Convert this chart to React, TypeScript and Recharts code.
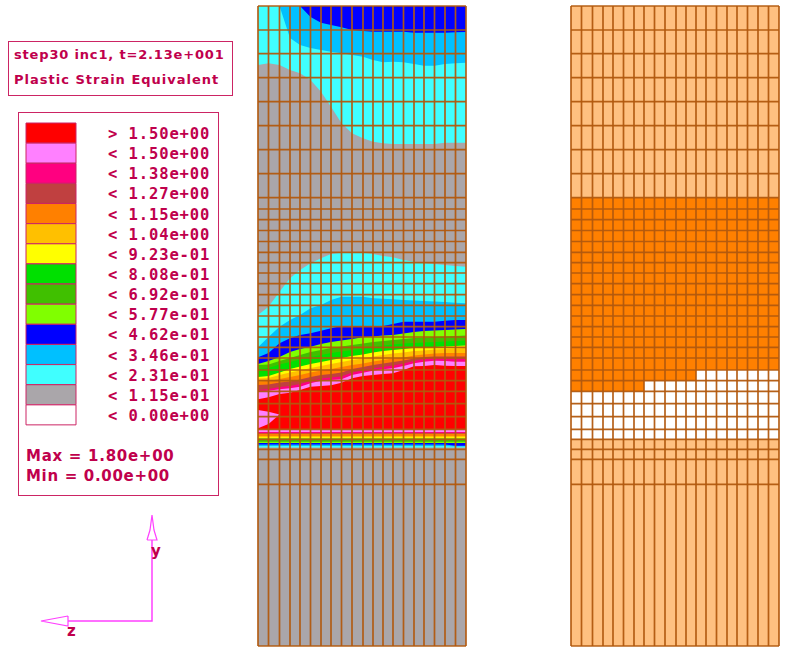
import { Area, Bar, BarChart, Cell, ComposedChart, ReferenceLine, Scatter, ScatterChart, XAxis, YAxis } from "recharts";

const INK = "#c0004c";
const FRAME = "#cc2464";
const MESH = "#b2590e";
const AXIS = "#ff40ff";

const captionLines = ["step30 inc1, t=2.13e+001", "Plastic Strain Equivalent"];
const legendLabels = ["> 1.50e+00", "< 1.50e+00", "< 1.38e+00", "< 1.27e+00", "< 1.15e+00", "< 1.04e+00", "< 9.23e-01", "< 8.08e-01", "< 6.92e-01", "< 5.77e-01", "< 4.62e-01", "< 3.46e-01", "< 2.31e-01", "< 1.15e-01", "< 0.00e+00"];
const legendColors = ["#ff0000", "#ff80ff", "#ff0080", "#c04040", "#ff8000", "#ffc000", "#ffff00", "#00e000", "#40c000", "#80ff00", "#0000ff", "#00c0ff", "#40ffff", "#aaa6aa", "#ffffff"];

// mesh lines
const meshColumns = [0, 10.5, 21.5, 32, 42, 52.5, 63, 73, 83.5, 94, 105, 115, 125, 135, 145.5, 156, 166, 176.5, 187, 197.5, 208];
const meshRows = [6, 30, 53.7, 77.7, 101.7, 125.7, 149.7, 173.7, 197.7, 209, 219.7, 230.5, 241.5, 252.3, 262.7, 273, 283.7, 294.7, 305.3, 316, 326.7, 337, 347.3, 358, 370, 380.7, 391.3, 403.7, 416.7, 429.3, 439.3, 449.3, 459.3, 484.3, 646];

// contours near the top edge: each one runs from the edge down to these rows
const topCyanBottom = [65, 63.3, 65, 70, 73.3, 80, 91.7, 106.7, 123.3, 133.3, 138.3, 141.7, 143.3, 144, 144, 144, 144, 144, 142.7, 142.7, 142.7];
const topSkyBottom = [6, 6, 6, 38, 45, 48, 50, 51.7, 53.3, 55, 56.7, 60, 62.3, 61.7, 62.3, 64, 65.7, 65.7, 64, 63.3, 62.7];
const topBlueBottom = [6, 6, 6, 6, 6, 17, 22.7, 25, 27.3, 30, 31, 31.7, 31.7, 31.7, 31.7, 32.7, 32.7, 32.7, 32.7, 32.3, 32];

// nested contours of the shear band, upper edges
const cyanTop = [315, 306.7, 291.7, 278.3, 270, 263.3, 258.3, 254, 252.7, 252.7, 252.7, 254, 256, 257.3, 260, 261.7, 263.3, 264, 265, 266, 266.7];
const skyTop = [347.3, 337, 326.7, 320, 315, 308.3, 305, 300, 296.7, 296.7, 296.7, 298.3, 298.7, 299.3, 300, 300.5, 301, 301.5, 302, 302.7, 303.3];
const blueTop = [357.3, 353, 343.3, 338.3, 335, 333.3, 330.7, 328.3, 326, 326, 326, 326, 326, 324, 321.7, 321.7, 321.7, 321.7, 320.7, 320, 320];
const limeTop = [364, 361, 357, 352, 349, 346.7, 344, 342, 340.5, 339, 337.3, 336.5, 335.5, 335, 333.5, 332, 331, 330.5, 330, 329.5, 329];
const oliveTop = [365, 364.5, 361, 358, 355, 352, 350, 348, 346.5, 345, 343.5, 342, 341, 340, 339, 338, 337.5, 337, 336.5, 336, 335.5];
const greenTop = [369, 368, 364.5, 362, 359.5, 357, 355, 353, 351.5, 350, 348.5, 347, 345.5, 344.5, 343.5, 343, 342.5, 342, 341.5, 341, 340.5];
const yellowTop = [377, 376, 372.5, 369, 366.5, 364, 362, 360, 358, 356, 354.5, 352.5, 351, 350, 349, 348, 347.5, 347, 346.5, 346, 345.5];
const amberTop = [378.5, 378, 375, 372.5, 370.5, 368, 366, 364, 362, 360, 358.5, 356.5, 355, 353.5, 352.5, 351, 350.5, 349.5, 349, 348.5, 348];
const orangeTop = [381.5, 381, 379, 377, 375, 372.5, 370.5, 369, 367, 365, 363.5, 361.5, 360, 358.5, 357.5, 355.5, 354.5, 353.5, 353, 353, 353];
const brownTop = [385, 384.5, 382.5, 381.5, 379.5, 377, 375, 374, 372.5, 369, 367, 365, 363.5, 362, 360.5, 358.5, 357, 356.5, 356.5, 356.5, 356.5];
const magentaTop = [390, 389, 387, 386, 384, 381, 378.5, 377.5, 376.5, 372.5, 370.5, 368.5, 367, 365.5, 363.5, 361, 359, 358, 358.5, 358.5, 358.5];
const pinkTop = [391.7, 390.7, 389.3, 388.3, 386.7, 383.3, 380.7, 380, 379.3, 375, 372.7, 370.7, 369.3, 368.3, 366, 363.3, 361.7, 360.7, 361, 361.7, 361.7];
const redTop = [399.3, 397.3, 394, 392.7, 390, 386.7, 386, 385.3, 382.7, 378.3, 376, 375, 374, 373.3, 370, 366.3, 366, 365, 365.7, 366, 366];

// lower edges of the same contours
const cyanBottom = [447.5, 447.5, 447.5, 447.5, 447.5, 447.5, 447.5, 447.5, 447.5, 447.5, 447.5, 447.5, 447.5, 447.5, 447.5, 447.5, 447.5, 447.5, 447.5, 447.5, 447.5];
const skyBottom = [446, 446, 446, 446, 446, 446, 446, 446, 446, 446, 446, 446, 446, 446, 446, 446, 446, 446, 446, 446.5, 446.5];
const blueBottom = [444.5, 444.5, 444.5, 444.5, 444.5, 444.5, 444.5, 444.5, 444.5, 444.5, 444.5, 444.5, 444.5, 444.5, 444.5, 444.5, 444.5, 444.5, 444.5, 445.8, 445.8];
const limeBottom = [443, 443, 443, 443, 443, 443, 443, 443, 443, 443, 443, 443, 443, 443, 443, 443, 443, 443, 443, 443, 443];
const oliveBottom = [441.7, 441.7, 441.7, 441.7, 441.7, 441.7, 441.7, 441.7, 441.7, 441.7, 441.7, 441.7, 441.7, 441.7, 441.7, 441.7, 441.7, 441.7, 441.7, 441.7, 441.7];
const greenBottom = [440, 440, 440, 440, 440, 440, 440, 440, 440, 440, 440, 440, 440, 440, 440, 440, 440, 440, 440, 440, 440];
const yellowBottom = [438.5, 438.5, 438.5, 438.5, 438.5, 438.5, 438.5, 438.5, 438.5, 438.5, 438.5, 438.5, 438.5, 438.5, 438.5, 438.5, 438.5, 438.5, 438.5, 438.5, 438.5];
const amberBottom = [437.3, 437.3, 437.3, 437.3, 437.3, 437.3, 437.3, 437.3, 437.3, 437.3, 437.3, 437.3, 437.3, 437.3, 437.3, 437.3, 437.3, 437.3, 437.3, 437.3, 437.3];
const orangeBottom = [436, 436, 436, 436, 436, 436, 436, 436, 436, 436, 436, 436, 436, 436, 436, 436, 436, 436, 436, 436, 436];
const brownBottom = [433.7, 433.7, 433.7, 433.7, 433.7, 433.7, 433.7, 433.7, 433.7, 433.7, 433.7, 433.7, 433.7, 433.7, 433.7, 433.7, 433.7, 433.7, 433.7, 433.7, 433.7];
const magentaBottom = [433, 433, 433, 433, 433, 433, 433, 433, 433, 433, 433, 433, 433, 433, 433, 433, 433, 433, 433, 433, 433];
const pinkBottom = [432, 432, 432, 432, 432, 432, 432, 432, 432, 432, 432, 432, 432, 432, 432, 432, 432, 432, 432, 432, 432];
const redBottom = [429.5, 429.5, 429.5, 429.5, 429.5, 429.5, 429.5, 429.5, 429.5, 429.5, 429.5, 429.5, 429.5, 429.5, 429.5, 429.5, 429.5, 429.5, 429.5, 429.5, 429.5];

// pink wedge inside the red zone, left edge
const lobeTop = [410, 411.7, 414.5];
const lobeBottom = [428.3, 424, 414.5];

// right mesh: yielded zone
const yieldTop = [197.7, 197.7, 197.7, 197.7, 197.7, 197.7, 197.7, 197.7, 197.7, 197.7, 197.7, 197.7, 197.7, 197.7, 197.7, 197.7, 197.7, 197.7, 197.7, 197.7, 197.7];
const yieldBottom = [391.3, 391.3, 391.3, 391.3, 391.3, 391.3, 391.3, 380.7, 380.7, 380.7, 380.7, 380.7, 370, 370, 370, 370, 370, 370, 370, 370, 370];
const elasticBottom = [439.3, 439.3, 439.3, 439.3, 439.3, 439.3, 439.3, 439.3, 439.3, 439.3, 439.3, 439.3, 439.3, 439.3, 439.3, 439.3, 439.3, 439.3, 439.3, 439.3, 439.3];

// triad
const triadShafts = [{ x: 68, y: 621 }, { x: 152, y: 621 }, { x: 152, y: 540 }];
const triadYHead = [{ x: 147, y: 540 }, { x: 150, y: 530 }, { x: 152, y: 515 }, { x: 154, y: 530 }, { x: 157, y: 540 }, { x: 147, y: 540 }];
const triadZHead = [{ x: 68, y: 616 }, { x: 41, y: 621 }, { x: 68, y: 626 }, { x: 68, y: 616 }];

const contours: [string, string, number[], number[]][] = [
  ["topCyan", "#40ffff", topCyanBottom.map(() => 6), topCyanBottom],
  ["topSky", "#00c0ff", topSkyBottom.map(() => 6), topSkyBottom],
  ["topBlue", "#0000ff", topBlueBottom.map(() => 6), topBlueBottom],
  ["cyan", "#40ffff", cyanTop, cyanBottom],
  ["sky", "#00c0ff", skyTop, skyBottom],
  ["blue", "#0000ff", blueTop, blueBottom],
  ["lime", "#80ff00", limeTop, limeBottom],
  ["olive", "#40c000", oliveTop, oliveBottom],
  ["green", "#00e000", greenTop, greenBottom],
  ["yellow", "#ffff00", yellowTop, yellowBottom],
  ["amber", "#ffc000", amberTop, amberBottom],
  ["orange", "#ff8000", orangeTop, orangeBottom],
  ["brown", "#c04040", brownTop, brownBottom],
  ["magenta", "#ff0080", magentaTop, magentaBottom],
  ["pink", "#ff80ff", pinkTop, pinkBottom],
  ["red", "#ff0000", redTop, redBottom],
];

const contourRows = meshColumns.map((z, i) => {
  const row: Record<string, unknown> = { z, base: [6, 646] };
  contours.forEach(([name, , top, bottom]) => (row[name] = [top[i], bottom[i]]));
  row.lobe = i < lobeTop.length ? [lobeTop[i], lobeBottom[i]] : null;
  return row;
});

const yieldRows = meshColumns.map((z, i) => ({
  z,
  base: [6, 646],
  elastic: [yieldTop[i], elasticBottom[i]],
  plastic: [yieldTop[i], yieldBottom[i]],
}));

const legendRows = legendLabels.map((label) => ({ label, value: 1 }));

function band(name: string, color: string, type: "linear" | "stepAfter" = "linear") {
  return <Area key={name} dataKey={name} type={type} fill={color} fillOpacity={1} stroke="none" dot={false} activeDot={false} isAnimationActive={false} />;
}

function MeshChart({ data, left, children }: { data: Record<string, unknown>[]; left: number; children: React.ReactNode }) {
  return (
    <div style={{ position: "absolute", left: left - 2, top: 4 }}>
      <ComposedChart width={212} height={644} data={data} margin={{ top: 2, right: 2, bottom: 2, left: 2 }}>
        <XAxis dataKey="z" type="number" domain={[0, 208]} hide />
        <YAxis type="number" domain={[6, 646]} reversed hide />
        {children}
        {meshColumns.map((x) => (
          <ReferenceLine key={`c${x}`} x={x} stroke={MESH} strokeWidth={1.7} strokeOpacity={0.95} />
        ))}
        {meshRows.map((y) => (
          <ReferenceLine key={`r${y}`} y={y} stroke={MESH} strokeWidth={1.7} strokeOpacity={0.95} />
        ))}
      </ComposedChart>
    </div>
  );
}

function LegendTick({ x, y, payload }: any) {
  return (
    <text x={x} y={y + 6} fill={INK} fontFamily="'DejaVu Sans Mono'" fontWeight="bold" fontSize={15.5} letterSpacing={0.9} xmlSpace="preserve">
      {payload.value}
    </text>
  );
}

const textStyle: React.CSSProperties = { position: "absolute", color: INK, fontFamily: "'DejaVu Sans'", fontWeight: "bold", whiteSpace: "pre", lineHeight: 1 };

export default function App() {
  return (
    <div style={{ position: "absolute", left: 0, top: 0, width: 785, height: 653, background: "#fff", overflow: "hidden" }}>
      {/* caption */}
      <div style={{ position: "absolute", left: 8, top: 41, width: 223, height: 53, border: `1.5px solid ${FRAME}` }} />
      {captionLines.map((line, i) => (
        <div key={line} style={{ ...textStyle, left: 14, top: 48 + i * 25, fontSize: 13, letterSpacing: i === 0 ? 0.83 : 1.0 }}>
          {line}
        </div>
      ))}

      {/* legend */}
      <div style={{ position: "absolute", left: 18, top: 112, width: 199, height: 382, border: `1.5px solid ${FRAME}` }} />
      <div style={{ position: "absolute", left: 25, top: 122 }}>
        <BarChart width={192} height={304} layout="vertical" data={legendRows} barCategoryGap={0} margin={{ top: 1, right: 0, bottom: 1, left: 1 }}>
          <XAxis type="number" domain={[0, 1]} hide />
          <YAxis type="category" dataKey="label" orientation="right" width={141} interval={0} axisLine={false} tickLine={false} tickMargin={26} tick={<LegendTick />} />
          <Bar dataKey="value" stroke={FRAME} strokeWidth={1} isAnimationActive={false}>
            {legendRows.map((row, i) => (
              <Cell key={row.label} fill={legendColors[i]} />
            ))}
          </Bar>
        </BarChart>
      </div>
      <div style={{ ...textStyle, left: 26, top: 449, fontSize: 15, letterSpacing: 0.72 }}>Max = 1.80e+00</div>
      <div style={{ ...textStyle, left: 26, top: 469, fontSize: 15, letterSpacing: 0.68 }}>Min = 0.00e+00</div>

      {/* coordinate triad */}
      <div style={{ position: "absolute", left: 36, top: 510 }}>
        <ScatterChart width={126} height={120} margin={{ top: 0, right: 0, bottom: 0, left: 0 }}>
          <XAxis dataKey="x" type="number" domain={[36, 162]} hide />
          <YAxis dataKey="y" type="number" domain={[510, 630]} reversed hide />
          <Scatter data={triadShafts} line={{ stroke: AXIS, strokeWidth: 1.5 }} shape={() => null} isAnimationActive={false} />
          <Scatter data={triadYHead} line={{ stroke: AXIS, strokeWidth: 1.2 }} shape={() => null} isAnimationActive={false} />
          <Scatter data={triadZHead} line={{ stroke: AXIS, strokeWidth: 1.2 }} shape={() => null} isAnimationActive={false} />
        </ScatterChart>
      </div>
      <div style={{ ...textStyle, left: 151, top: 544, fontSize: 15 }}>y</div>
      <div style={{ ...textStyle, left: 67, top: 624, fontSize: 15 }}>z</div>

      {/* plastic strain mesh */}
      <MeshChart data={contourRows} left={257.5}>
        {band("base", "#aaa6aa")}
        {contours.map(([name, color]) => band(name, color))}
        {band("lobe", "#ff80ff")}
      </MeshChart>

      {/* yield state mesh */}
      <MeshChart data={yieldRows} left={571}>
        {band("base", "#ffc080")}
        {band("elastic", "#ffffff", "stepAfter")}
        {band("plastic", "#ff8000", "stepAfter")}
      </MeshChart>
    </div>
  );
}
